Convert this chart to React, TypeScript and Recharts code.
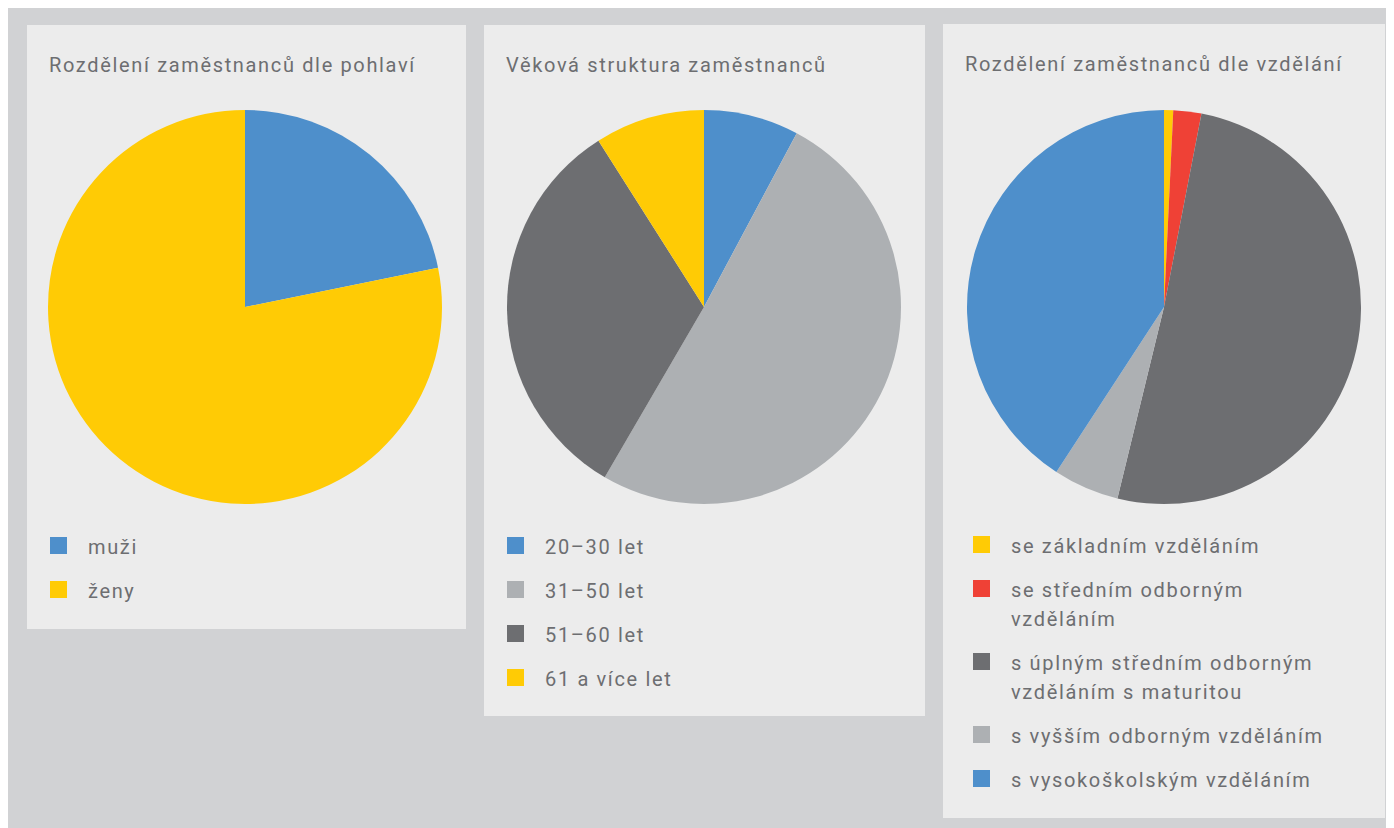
import { PieChart, Pie, Cell } from 'recharts';

const BLUE = '#4e8fcb';
const YELLOW = '#ffcb05';
const LIGHT = '#adb0b3';
const DARK = '#6d6e71';
const RED = '#ef4136';

// pohlaví
const genderLabels = ['muži', 'ženy'];
const genderValues = [21.8, 78.2];
const genderColors = [BLUE, YELLOW];

// věk
const ageLabels = ['20–30 let', '31–50 let', '51–60 let', '61 a více let'];
const ageValues = [7.8, 50.6, 32.6, 9.0];
const ageColors = [BLUE, LIGHT, DARK, YELLOW];

// vzdělání
const eduLabels = [
  'se základním vzděláním',
  'se středním odborným vzděláním',
  's úplným středním odborným vzděláním s maturitou',
  's vyšším odborným vzděláním',
  's vysokoškolským vzděláním',
];
const eduValues = [0.75, 2.3, 50.75, 5.4, 40.8];
const eduColors = [YELLOW, RED, DARK, LIGHT, BLUE];

const FONT = 'Roboto, "Open Sans", sans-serif';
const TEXT = '#6d6e71';
const SPACING = 1.65;

interface PanelProps {
  title: string;
  labels: string[];
  values: number[];
  colors: string[];
  left: number;
  top: number;
  width: number;
  height: number;
  cx: number;
  cy: number;
  legendLeft: number;
}

const Panel = ({ title, labels, values, colors, left, top, width, height, cx, cy, legendLeft }: PanelProps) => {
  const data = labels.map((name, i) => ({ name, value: values[i] }));

  return (
    <div style={{ position: 'absolute', left, top, width, height, background: '#ececec' }}>
      <div
        style={{
          position: 'absolute',
          left: 22,
          top: 28,
          fontFamily: FONT,
          fontSize: 20,
          letterSpacing: SPACING,
          color: TEXT,
          whiteSpace: 'nowrap',
        }}
      >
        {title}
      </div>
      <div style={{ position: 'absolute', left: 0, top: 0 }}>
        <PieChart width={width} height={500} margin={{ top: 0, right: 0, bottom: 0, left: 0 }}>
          <Pie
            data={data}
            dataKey="value"
            nameKey="name"
            cx={cx}
            cy={cy}
            outerRadius={197}
            startAngle={90}
            endAngle={-270}
            stroke="none"
            isAnimationActive={false}
          >
            {data.map((d, i) => (
              <Cell key={d.name} fill={colors[i]} />
            ))}
          </Pie>
        </PieChart>
      </div>
      {/* legenda */}
      <div
        style={{
          position: 'absolute',
          left: legendLeft,
          top: 508,
          fontFamily: FONT,
          fontSize: 20,
          letterSpacing: SPACING,
          color: TEXT,
        }}
      >
        {labels.map((l, i) => (
          <div key={l} style={{ position: 'relative', paddingLeft: 38, lineHeight: '29px', marginBottom: 15, width: 335 }}>
            <span style={{ position: 'absolute', left: 0, top: 4, width: 17, height: 17, background: colors[i] }} />
            {l}
          </div>
        ))}
      </div>
    </div>
  );
};

export default function App() {
  return (
    <div style={{ position: 'relative', width: 1386, height: 820, background: '#d1d2d4' }}>
      <Panel
        title="Rozdělení zaměstnanců dle pohlaví"
        labels={genderLabels}
        values={genderValues}
        colors={genderColors}
        left={19}
        top={17}
        width={439}
        height={604}
        cx={218}
        cy={282}
        legendLeft={23}
      />
      <Panel
        title="Věková struktura zaměstnanců"
        labels={ageLabels}
        values={ageValues}
        colors={ageColors}
        left={476}
        top={17}
        width={441}
        height={691}
        cx={220}
        cy={282}
        legendLeft={23}
      />
      <Panel
        title="Rozdělení zaměstnanců dle vzdělání"
        labels={eduLabels}
        values={eduValues}
        colors={eduColors}
        left={935}
        top={16}
        width={442}
        height={794}
        cx={221}
        cy={283}
        legendLeft={30}
      />
    </div>
  );
}
